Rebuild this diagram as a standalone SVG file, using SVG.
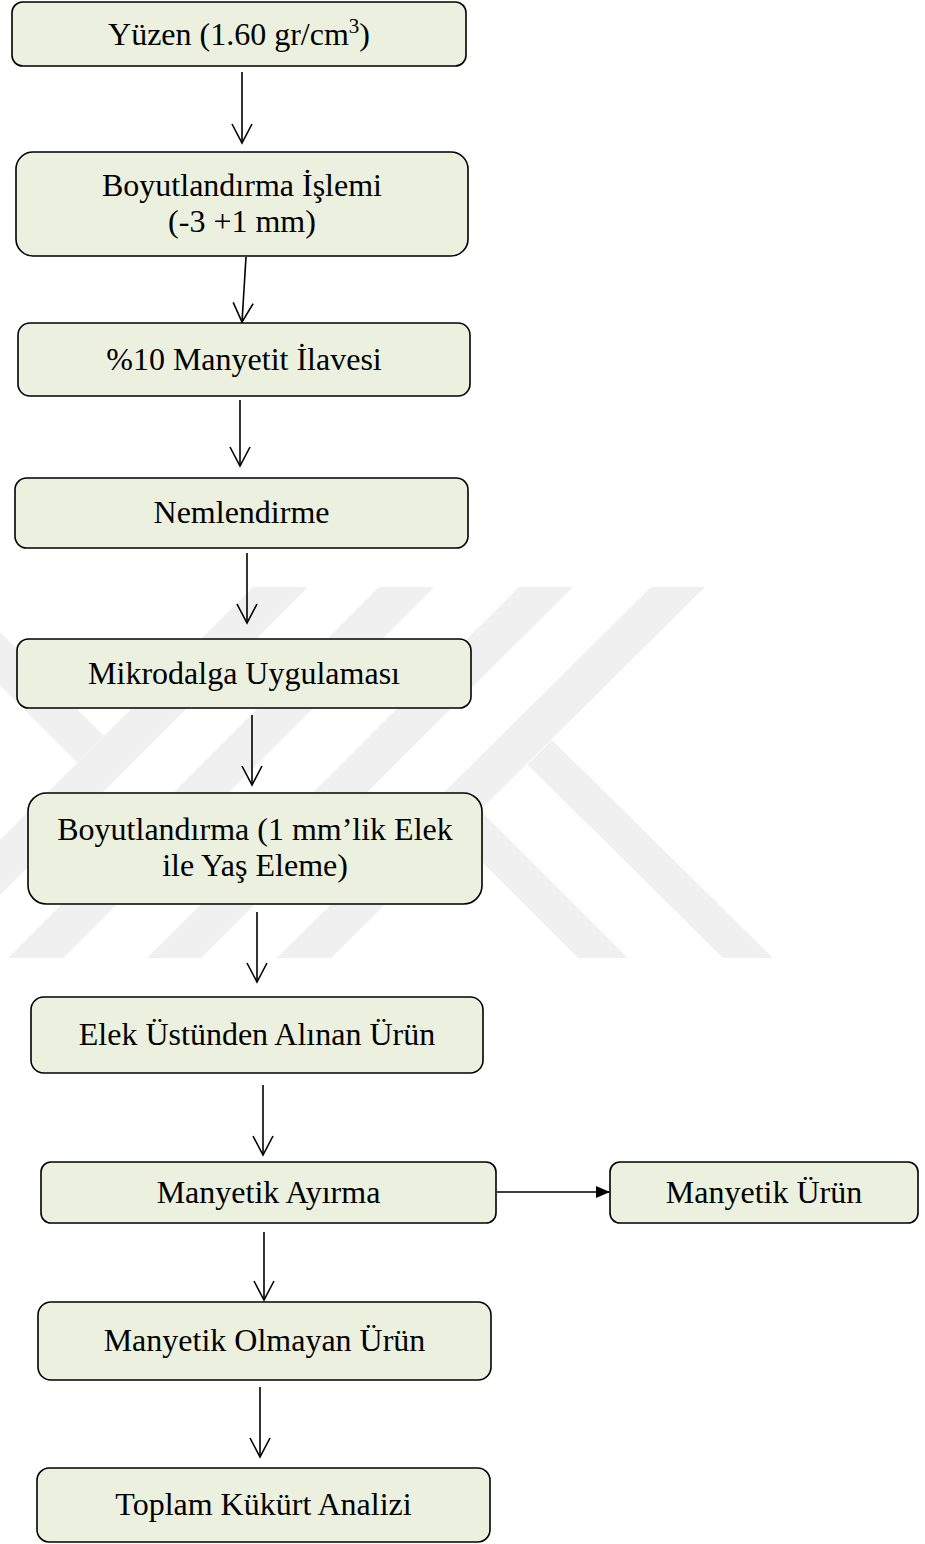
<svg xmlns="http://www.w3.org/2000/svg" width="925" height="1544" viewBox="0 0 925 1544">
<style>
.box{fill:#EBF1DE;stroke:#000;stroke-width:1.6}
.t{font-family:"Liberation Serif","Times New Roman",serif;font-size:32px;fill:#000;text-anchor:middle}
.c{fill:none;stroke:#000;stroke-width:1.6}
.wm{fill:#f0f0f0}
</style>
<defs>
<marker id="open" markerUnits="userSpaceOnUse" markerWidth="24" markerHeight="24" refX="19" refY="10" orient="auto" overflow="visible">
<path d="M0,0 L19,10 L0,20" fill="none" stroke="#000" stroke-width="1.6"/>
</marker>
<marker id="solid" markerUnits="userSpaceOnUse" markerWidth="16" markerHeight="14" refX="14" refY="6" orient="auto" overflow="visible">
<path d="M0,0 L14,6 L0,12 z" fill="#000"/>
</marker>
</defs>
<rect width="925" height="1544" fill="#fff"/>
<g id="watermark">
<polygon class="wm" points="253,587 308,587 0,895 0,840"/>
<polygon class="wm" points="0,632 104,736 77.5,762.5 0,685"/>
<polygon class="wm" points="379,587 434,587 63,958 8,958"/>
<polygon class="wm" points="519,587 573,587 201,958 147,958"/>
<polygon class="wm" points="651,587 705,587 331,958 277,958"/>
<polygon class="wm" points="552,740 773,958 723,958 527.5,764.5"/>
<polygon class="wm" points="481,811 628,958 578,958 456,836"/>
</g>
<g id="connectors">
<line class="c" x1="242" y1="72" x2="242" y2="143" marker-end="url(#open)"/>
<line class="c" x1="246" y1="257" x2="242" y2="322" marker-end="url(#open)"/>
<line class="c" x1="240" y1="400" x2="240" y2="466" marker-end="url(#open)"/>
<line class="c" x1="247" y1="553" x2="247" y2="623" marker-end="url(#open)"/>
<line class="c" x1="252" y1="715" x2="252" y2="785" marker-end="url(#open)"/>
<line class="c" x1="257" y1="912" x2="257" y2="982" marker-end="url(#open)"/>
<line class="c" x1="263" y1="1085" x2="263" y2="1155" marker-end="url(#open)"/>
<line class="c" x1="264" y1="1232" x2="264" y2="1300" marker-end="url(#open)"/>
<line class="c" x1="260" y1="1387" x2="260" y2="1457" marker-end="url(#open)"/>
<line class="c" x1="497" y1="1192" x2="610" y2="1192" marker-end="url(#solid)"/>
</g>
<g id="n1"><rect class="box" x="12" y="2" width="454" height="64" rx="10.7"/>
<text class="t" x="239" y="45">Yüzen (1.60 gr/cm<tspan font-size="21" dy="-12">3</tspan><tspan dy="12">)</tspan></text></g>
<g id="n2"><rect class="box" x="16" y="152" width="452" height="104" rx="17"/>
<text class="t" x="242" y="196">Boyutlandırma İşlemi</text>
<text class="t" x="242" y="232">(-3 +1 mm)</text></g>
<g id="n3"><rect class="box" x="18" y="323" width="452" height="73" rx="12"/>
<text class="t" x="244" y="370">%10 Manyetit İlavesi</text></g>
<g id="n4"><rect class="box" x="15" y="478" width="453" height="70" rx="11.7"/>
<text class="t" x="241.5" y="523">Nemlendirme</text></g>
<g id="n5"><rect class="box" x="17" y="639" width="454" height="69" rx="11.5"/>
<text class="t" x="244" y="684">Mikrodalga Uygulaması</text></g>
<g id="n6"><rect class="box" x="28" y="793" width="454" height="111" rx="18.5"/>
<text class="t" x="255" y="840">Boyutlandırma (1 mm’lik Elek</text>
<text class="t" x="255" y="876">ile Yaş Eleme)</text></g>
<g id="n7"><rect class="box" x="31" y="997" width="452" height="76" rx="12.7"/>
<text class="t" x="257" y="1045">Elek Üstünden Alınan Ürün</text></g>
<g id="n8"><rect class="box" x="41" y="1162" width="455" height="61" rx="10"/>
<text class="t" x="268.5" y="1203">Manyetik Ayırma</text></g>
<g id="n9"><rect class="box" x="610" y="1162" width="308" height="61" rx="10"/>
<text class="t" x="764" y="1203">Manyetik Ürün</text></g>
<g id="n10"><rect class="box" x="38" y="1302" width="453" height="78" rx="13"/>
<text class="t" x="264.5" y="1351">Manyetik Olmayan Ürün</text></g>
<g id="n11"><rect class="box" x="37" y="1468" width="453" height="74" rx="12.3"/>
<text class="t" x="263.5" y="1515">Toplam Kükürt Analizi</text></g>
</svg>
